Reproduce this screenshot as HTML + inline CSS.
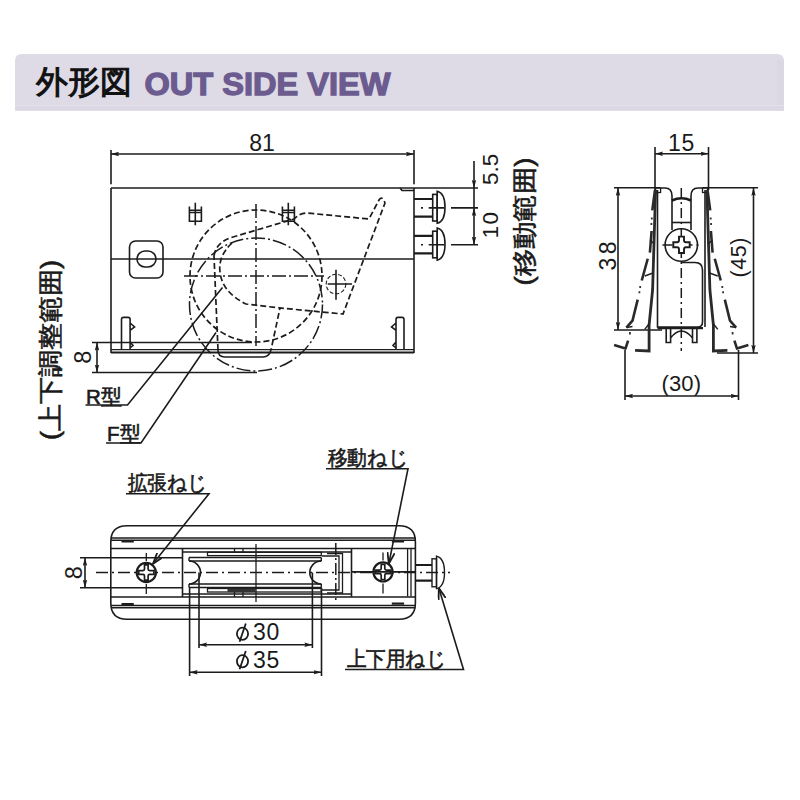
<!DOCTYPE html>
<html><head><meta charset="utf-8">
<style>
html,body{margin:0;padding:0;background:#fff;width:800px;height:800px;overflow:hidden}
svg{display:block}
text{font-family:"Liberation Sans",sans-serif;fill:#1a1a1a}
.l{stroke:#1c1c1c;stroke-width:1.6;fill:none}
.t{stroke:#1c1c1c;stroke-width:2.2;fill:none}
.d{stroke:#1c1c1c;stroke-width:1.7;fill:none;stroke-dasharray:6 3}
.jb{stroke:#1a1a1a;stroke-width:0.6}
.dc{stroke:#1c1c1c;stroke-width:1.5;fill:none;stroke-dasharray:14 3 2 3}
</style></head><body>
<svg width="800" height="800" viewBox="0 0 800 800">
<defs>
<marker id="a" viewBox="0 0 8 5" refX="8" refY="2.5" markerWidth="8" markerHeight="5" markerUnits="userSpaceOnUse" orient="auto-start-reverse">
<path d="M0,0.3 L8,2.5 L0,4.7 L1.2,2.5 Z" fill="#1c1c1c"/>
</marker>
<marker id="v" viewBox="0 0 12 8" refX="11.5" refY="4" markerWidth="12" markerHeight="8" markerUnits="userSpaceOnUse" orient="auto">
<path d="M0,0.3 L11.5,4 L0,7.7" fill="none" stroke="#1c1c1c" stroke-width="1.8"/>
</marker>
</defs>
<!-- header -->
<path d="M15,61 Q15,54 22,54 L777,54 Q784,54 784,61 L784,110.6 L15,110.6 Z" fill="#dedbe7"/>
<rect x="776.5" y="60" width="7.5" height="50.6" fill="#dbd8e4"/>
<rect x="15" y="105.6" width="769" height="5" fill="#dbd8e4"/>
<rect x="15" y="105.2" width="769" height="0.8" fill="#e6e3ee"/>
<text x="36.2" y="93" font-size="32" textLength="95.6" lengthAdjust="spacingAndGlyphs" style="fill:#111;stroke:#111;stroke-width:1.1">外形図</text>
<text x="144.5" y="95" font-size="31" font-weight="bold" textLength="246" lengthAdjust="spacingAndGlyphs" style="fill:#6b5b8f;stroke:#6b5b8f;stroke-width:1.3">OUT SIDE VIEW</text>

<!-- ===== FRONT VIEW ===== -->
<g>
<line class="l" x1="111" y1="150" x2="111" y2="184.3"/>
<line class="l" x1="414" y1="150" x2="414" y2="184.3"/>
<line class="l" x1="111" y1="154" x2="414" y2="154" marker-start="url(#a)" marker-end="url(#a)"/>
<text x="262" y="150.5" font-size="23" text-anchor="middle">81</text>
<!-- box -->
<line class="l" x1="111" y1="188" x2="478" y2="188"/>
<line class="l" x1="111" y1="188" x2="111" y2="353"/>
<line class="l" x1="414" y1="188" x2="414" y2="353"/>
<path d="M400,188 L402,190.5 L414,190.5" class="l"/>
<path class="l" d="M111,349.6H414" style="stroke-width:1.4"/>
<path class="l" d="M111,352.5H414" style="stroke-width:1.9"/>
<line class="l" x1="111" y1="259" x2="414" y2="259"/>
<rect class="l" x="129.5" y="241" width="33.5" height="37" rx="6"/>
<rect class="l" x="137" y="251" width="19" height="16" rx="8"/>
<!-- 中 symbols -->
<g id="cs"><path class="l" d="M189.4,206.4V221.2H201.4V206.4M189.4,210.3H201.4M189.4,212.5H201.4M195.3,202.7V225.2"/></g>
<use href="#cs" x="93" y="0"/>
<!-- clips -->
<path class="l" d="M121.5,349V319.5Q121.5,317.4 123.5,317.4H128.1Q130.1,317.4 130.1,319.5V349M130.1,323L134.6,327L130.1,330.4M130.1,342L133,345.5L130.1,348"/>
<path class="l" d="M404,349V319.5Q404,317.4 402,317.4H398Q396,317.4 396,319.5V349M396,323L391.5,327L396,330.4M396,342L393,345.5L396,348"/>
<!-- circles -->
<circle class="d" cx="256" cy="276" r="66"/>
<circle class="dc" cx="256" cy="304.5" r="66.5"/>
<line class="dc" x1="256" y1="204" x2="256" y2="346"/>
<line class="dc" x1="184" y1="276" x2="324" y2="276"/>
<!-- bracket -->
<path class="d" d="M214,256 Q216,242 233,237 L294,219 Q300,213 307,213 L369,219 L379,200 Q382,195 385,203 L343,314 L280,308 L271,350"/>
<path class="l" d="M271,350 Q269,357 263,357 L225,357 Q218,357 218,350"/>
<path class="d" d="M218,350 L214,256"/>
<path class="d" d="M232,243 Q218,256 220,272 Q222,292 246,304 L280,308"/>
<circle class="d" cx="336" cy="284" r="9.8" style="stroke-dasharray:4 2;stroke-width:1.1"/>
<path class="l" d="M327.7,284H352M336,269.7V299.8"/>
<!-- screws -->
<g id="sc">
<path class="t" d="M414,199H432.7M414,216.6H432.7"/>
<rect class="l" x="432.7" y="194.4" width="4.5" height="26.6"/>
<path class="l" d="M437.2,191.2Q445,193 445,207.2Q445,221.5 437.2,223.3Z"/>
</g>
<use href="#sc" x="0" y="36.8"/>
<path class="l" d="M421,207.9H423M428.7,207.9H444.5M451,207.9H478M421,244.7H423M428.7,244.7H444.5M451,244.7H478"/>
<!-- 5.5 / 10 dims -->
<line class="l" x1="474" y1="161" x2="474" y2="188" marker-end="url(#a)"/>
<line class="l" x1="474" y1="188" x2="474" y2="207.9"/>
<line class="l" x1="474" y1="207.9" x2="474" y2="244.7" marker-start="url(#a)" marker-end="url(#a)"/>
<text transform="translate(497.5,169.4) rotate(-90)" font-size="22.5" text-anchor="middle">5.5</text>
<text transform="translate(497.5,224.4) rotate(-90)" font-size="22.5" text-anchor="middle" letter-spacing="1.5">10</text>
<text transform="translate(533,285.5) rotate(-90)" font-size="25" textLength="128" lengthAdjust="spacingAndGlyphs" class="jb">(移動範囲)</text>
<!-- 8 dim -->
<line class="l" x1="92" y1="342.5" x2="252" y2="342.5"/>
<line class="l" x1="92" y1="372.5" x2="257" y2="372.5"/>
<line class="l" x1="97" y1="342.5" x2="97" y2="372.5" marker-start="url(#a)" marker-end="url(#a)"/>
<text transform="translate(91,357.3) rotate(-90)" font-size="23.5" text-anchor="middle">8</text>
<text transform="translate(59,440) rotate(-90)" font-size="25" textLength="180" lengthAdjust="spacingAndGlyphs" class="jb">(上下調整範囲)</text>
<!-- R / F labels -->
<text x="86" y="403.5" font-size="20.5" class="jb">R型</text>
<path class="l" d="M85.5,405H127.5L222.5,287.5"/>
<text x="107" y="441" font-size="20.5" class="jb">F型</text>
<path class="l" d="M106,443H141L216,332.5"/>
</g>
<!-- ===== SIDE VIEW ===== -->
<g>
<line class="l" x1="655" y1="147" x2="655" y2="190"/>
<line class="l" x1="708.5" y1="147" x2="708.5" y2="190"/>
<line class="l" x1="655" y1="153.8" x2="708.5" y2="153.8" marker-start="url(#a)" marker-end="url(#a)"/>
<text x="681.5" y="151" font-size="23" text-anchor="middle" letter-spacing="0.8">15</text>
<line class="l" x1="614" y1="187.8" x2="660" y2="187.8"/>
<line class="l" x1="703" y1="187.8" x2="758" y2="187.8"/>
<line class="l" x1="618" y1="187.8" x2="618" y2="330" marker-start="url(#a)" marker-end="url(#a)"/>
<line class="l" x1="614" y1="330" x2="662" y2="330"/>
<line class="l" x1="753.5" y1="187.8" x2="753.5" y2="353" marker-start="url(#a)" marker-end="url(#a)"/>
<line class="l" x1="717" y1="353" x2="758" y2="353"/>
<text transform="translate(615.5,270.5) rotate(-90)" font-size="23" textLength="29" lengthAdjust="spacing">38</text>
<text transform="translate(746,277.5) rotate(-90)" font-size="21.5" textLength="40" lengthAdjust="spacing">(45)</text>
<!-- (30) -->
<line class="l" x1="625" y1="350" x2="625" y2="400"/>
<line class="l" x1="738.5" y1="350" x2="738.5" y2="400"/>
<line class="l" x1="625" y1="396" x2="738.5" y2="396" marker-start="url(#a)" marker-end="url(#a)"/>
<text x="661.5" y="390.5" font-size="22" textLength="39.5" lengthAdjust="spacing">(30)</text>
<!-- body centre -->
<path class="l" d="M660,188H665Q672,188 672,196V230M691,230V196Q691,188 698,188H703"/>
<path class="t" d="M672,200.5Q681.5,196 691,200.5" style="stroke-width:2.6"/>
<path class="l" d="M672,222.5H691"/>
<circle class="l" cx="681.3" cy="245" r="16.2"/>

<path class="dc" d="M662.5,245H701M681.3,188V351" style="stroke-dasharray:10 4 2 4"/>
<path d="M679.0,236.60000000000002H684.0V240.3Q684.0,242.3 686.0,242.3H689.7V247.3H686.0Q684.0,247.3 684.0,249.3V253.0H679.0V249.3Q679.0,247.3 677.0,247.3H673.3V242.3H677.0Q679.0,242.3 679.0,240.3Z" style="stroke:#1c1c1c;stroke-width:1.9;fill:#fff"/>
<path class="l" d="M657.5,190V327H697.5Q702.5,327 702.5,322V270Q702.5,262.5 695,262.5H681"/>
<path class="l" d="M705,190V327"/>
<path class="t" d="M657.5,328.2H703"/>
<path class="l" d="M666.2,328V342.5H670.6V328M692.5,328V342.5H696.9V328M670.6,338Q681.3,324 692.5,338"/>
<rect class="l" x="655.6" y="188" width="5" height="4.5" style="stroke-width:1.3"/>
<rect class="l" x="702.5" y="188" width="5" height="4.5" style="stroke-width:1.3"/>
<!-- left wings -->
<g id="wg">
<path d="M655.6,190L652.6,290L649.1,325L649.1,351L635.1,350.4" style="stroke:#2a2a2a;stroke-width:2.8;fill:none"/>
<path d="M655,190L652.3,210.3M651.6,231L649.9,252.7M647.75,258.75L641.75,280.5M637.7,299.6L632.5,320.6L626.4,327.6M628.1,340.7L625.5,348.6L614.1,345.1" style="stroke:#2a2a2a;stroke-width:2.6;fill:none;stroke-linejoin:round"/>
<path d="M651.8,217.5V219.5M651.4,223V225M640.2,286V288M639.4,291.2V293.2M629.9,332V334.5" style="stroke:#333;stroke-width:1.8;fill:none"/>
<path d="M650,240.3L654.7,244M644.75,276L653,273M626.4,327.6L632.5,326.5M644.7,329.4L649,324" style="stroke:#222;stroke-width:1.5;fill:none"/>
</g>
<use href="#wg" transform="translate(1362.5,0) scale(-1,1)"/>
</g>
<!-- ===== BOTTOM VIEW ===== -->
<g>
<text x="127.5" y="490" font-size="21" textLength="80" lengthAdjust="spacingAndGlyphs" class="jb">拡張ねじ</text>
<path class="l" d="M126,493.7H209L153,563.8" marker-end="url(#v)"/>
<text x="327.5" y="465" font-size="21" textLength="81" lengthAdjust="spacingAndGlyphs" class="jb">移動ねじ</text>
<path class="l" d="M326,468.7H408L388.8,563.8" marker-end="url(#v)"/>
<text x="346.5" y="666" font-size="21" textLength="100" lengthAdjust="spacingAndGlyphs" class="jb">上下用ねじ</text>
<path class="l" d="M345,669.5H463.5L438.8,588" marker-end="url(#v)"/>
<!-- body -->
<path class="l" d="M127,525.8H399Q415.4,525.8 415.4,542V603Q415.4,619.2 399,619.2H127Q110.8,619.2 110.8,603V542Q110.8,525.8 127,525.8Z"/>
<path class="l" d="M111,538H415.4M111,540.3H415.4M111,605.5H415.4M111,607.7H415.4" style="stroke-width:1.4"/>
<path class="l" d="M111,548.5H415.4M111,597H415.4"/>
<rect x="121.5" y="540.5" width="12.3" height="2" fill="#1c1c1c"/>
<rect x="121.5" y="603" width="12.3" height="2.2" fill="#1c1c1c"/>
<rect x="391.8" y="540.5" width="12.3" height="2" fill="#1c1c1c"/>
<rect x="391.8" y="602.5" width="12.3" height="2.2" fill="#1c1c1c"/>
<!-- 8 dim -->
<path class="l" d="M80,557.8H182.5M80,587.8H182.5"/>
<line class="l" x1="85" y1="557.8" x2="85" y2="587.8" marker-start="url(#a)" marker-end="url(#a)"/>
<text transform="translate(81.5,572.8) rotate(-90)" font-size="23.5" text-anchor="middle">8</text>
<path class="dc" d="M96,572.5H450" style="stroke-dasharray:12 4 2 4"/>
<!-- screws -->
<path class="l" d="M146.3,553V561M146.3,584V594M383,552.5V560.5M383,583.5V593.5" style="stroke-width:1.3"/>
<g id="ps">
<circle cx="146.3" cy="572.5" r="9.6" style="stroke:#1c1c1c;stroke-width:2.2;fill:#fff"/>
<path d="M144.5,564.9H148.10000000000002V569.1Q148.10000000000002,570.7 149.70000000000002,570.7H153.9V574.3H149.70000000000002Q148.10000000000002,574.3 148.10000000000002,575.9V580.1H144.5V575.9Q144.5,574.3 142.9,574.3H138.70000000000002V570.7H142.9Q144.5,570.7 144.5,569.1Z" style="stroke:#1c1c1c;stroke-width:1.7;fill:#fff"/>
</g>
<use href="#ps" x="236.7" y="-0.6"/>
<!-- housing -->
<path class="l" d="M182.5,548.5V597M351.5,548.5V597M182.5,552H351.5M182.5,594H351.5M351.5,571.9H415.4"/>
<path class="l" d="M407.6,549V596.5M411,549V596.5" style="stroke-width:1.3"/>
<rect class="l" x="207.5" y="552.3" width="113.8" height="3.3" style="stroke-width:1.3"/>
<rect class="l" x="207.5" y="588.5" width="113.8" height="3.5" style="stroke-width:1.3"/>
<rect x="227.5" y="588.5" width="28" height="3.5" fill="#333"/>
<path class="l" d="M189,557.5H321.3M189,561H321.3M189,584H321.3M189,587.5H321.3M189,557.5V561M321.3,557.5V561M189,584V587.5M321.3,584V587.5" style="stroke-width:1.4"/>
<path class="l" d="M189,561A11.5,11.5 0 0 1 189,584M321.3,561A11.5,11.5 0 0 0 321.3,584"/>
<path class="l" d="M327,553.5H342.5V593H327M322,556H339V590H322" style="stroke-width:1.3"/>
<path class="l" d="M256,544V602" style="stroke-width:1.3"/>
<path class="dc" d="M335.8,543V603" style="stroke-dasharray:12 3 2 3"/>
<path class="l" d="M234.5,548.5V552M243,548.5V552M234.5,592V597M243,592V597" style="stroke-width:1.3"/>
<!-- right screw -->
<path class="t" d="M415.4,565H432M415.4,580.7H432"/>
<rect class="l" x="432" y="558.8" width="4.5" height="28" style="stroke-width:1.4"/>
<path class="l" d="M436.5,556.2Q444.5,558 444.5,572.4Q444.5,586.8 436.5,588.6Z" style="stroke-width:1.4"/>
<!-- diameters -->
<path class="l" d="M189.6,587.5V676M199,572.5V648M312.4,572.5V648M321.5,587.5V676"/>
<line class="l" x1="199" y1="644.8" x2="312.4" y2="644.8" marker-start="url(#a)" marker-end="url(#a)"/>
<line class="l" x1="189.6" y1="672.3" x2="321.5" y2="672.3" marker-start="url(#a)" marker-end="url(#a)"/>
<g id="phi"><ellipse cx="242.5" cy="633.8" rx="5.6" ry="6.1" style="stroke:#1c1c1c;stroke-width:1.8;fill:none"/><path d="M245.8,623.5L239.6,641.7" style="stroke:#1c1c1c;stroke-width:1.8"/></g>
<use href="#phi" y="27.5"/>
<text x="253" y="640" font-size="23" letter-spacing="0.6">30</text>
<text x="253" y="667.5" font-size="23" letter-spacing="0.6">35</text>
</g>
</svg>
</body></html>
